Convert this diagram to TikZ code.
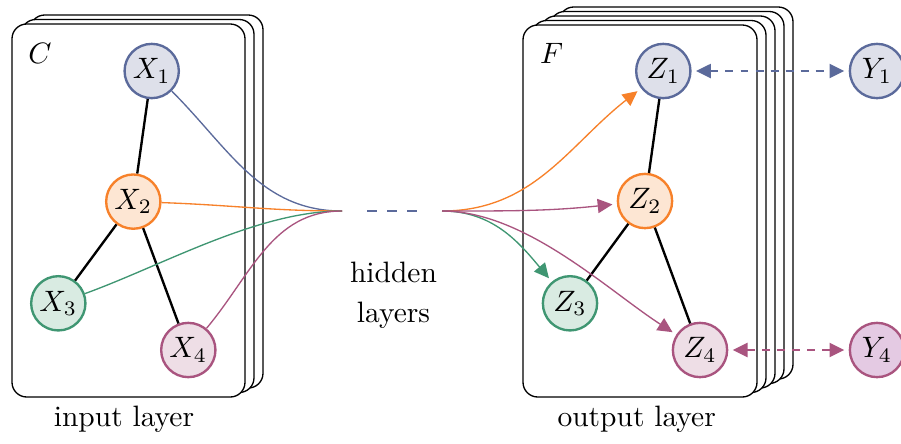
\documentclass[tikz,border=0pt]{standalone}
\usetikzlibrary{arrows.meta}
\definecolor{cblue}{HTML}{5B6A9B}
\definecolor{cblueF}{HTML}{DEE0EA}
\definecolor{corange}{HTML}{F7812A}
\definecolor{corangeF}{HTML}{FDE6D3}
\definecolor{cgreen}{HTML}{3F9672}
\definecolor{cgreenF}{HTML}{D9EBE2}
\definecolor{cmauve}{HTML}{A9547F}
\definecolor{cmauveF}{HTML}{EEDEE6}
\definecolor{cpurpleF}{HTML}{E4CAE3}
\begin{document}
\begin{tikzpicture}[x=0.339pt,y=-0.339pt,
  var/.style={circle, draw, line width=0.8pt, minimum size=18.4pt, inner sep=0pt},
  plate/.style={draw, line width=0.45pt, rounded corners=5pt, fill=white},
  edge/.style={line width=0.8pt, black},
  flow/.style={line width=0.45pt},
  tip/.style={-{Triangle[length=5pt,width=4.8pt]}, shorten >=1.5pt},
  link/.style={{Triangle[length=5pt,width=4.8pt]}-{Triangle[length=5pt,width=4.8pt]},
    shorten >=1.5pt, shorten <=1.5pt, line width=0.5pt, dash pattern=on 2.7pt off 2.4pt},
  lbl/.style={inner sep=0pt}
]
\useasboundingbox (0,0) rectangle (901,443);

% plates
\foreach \k in {2,1,0}
  \draw[plate] ({12+9*\k},{24-4.5*\k}) rectangle ({245+9*\k},{397-4.5*\k});
\foreach \k in {4,3,2,1,0}
  \draw[plate] ({523+9*\k},{25-4.5*\k}) rectangle ({757+9*\k},{397-4.5*\k});

\node[lbl] (C) at (40,53) {$C$};
\node[lbl] (F) at (551.7,53) {$F$};

% input nodes
\node[var, draw=cblue, fill=cblueF] (x1) at (151.7,71) {$X_1$};
\node[var, draw=corange, fill=corangeF] (x2) at (133.3,201.6) {$X_2$};
\node[var, draw=cgreen, fill=cgreenF] (x3) at (58.3,303.3) {$X_3$};
\node[var, draw=cmauve, fill=cmauveF] (x4) at (188.3,350) {$X_4$};

% output nodes
\node[var, draw=cblue, fill=cblueF] (z1) at (663.3,71) {$Z_1$};
\node[var, draw=corange, fill=corangeF] (z2) at (645,201) {$Z_2$};
\node[var, draw=cgreen, fill=cgreenF] (z3) at (570,303.3) {$Z_3$};
\node[var, draw=cmauve, fill=cmauveF] (z4) at (700,350) {$Z_4$};

\node[var, draw=cblue, fill=cblueF] (y1) at (877,71) {$Y_1$};
\node[var, draw=cmauve, fill=cpurpleF] (y4) at (877,350) {$Y_4$};

% graph edges
\draw[edge] (x1) -- (x2);
\draw[edge] (x2) -- (x3);
\draw[edge] (x2) -- (x4);
\draw[edge] (z1) -- (z2);
\draw[edge] (z2) -- (z3);
\draw[edge] (z2) -- (z4);

% hidden layer points
\coordinate (M) at (342,211);
\coordinate (D1) at (367,211);
\coordinate (D2) at (417,211);
\coordinate (N) at (442,211);

\draw[flow, cblue] (x1) to[out=-45, in=180] (M);
\draw[flow, corange] (x2) to[out=-2, in=180] (M);
\draw[flow, cgreen] (x3) to[out=20, in=180, looseness=0.8] (M);
\draw[flow, cmauve] (x4) to[out=50, in=180] (M);

\draw[flow, cblue, dash pattern=on 3.4pt off 3.4pt] (D1) -- (D2);

\draw[flow, tip, corange] (N) to[out=0, in=218] (z1);
\draw[flow, tip, cgreen] (N) to[out=0, in=130] (z3);
\draw[flow, tip, cmauve] (N) to[out=0, in=147, looseness=0.8] (z4);
\draw[flow, tip, cmauve] (N) to[out=0, in=186] (z2);

\draw[link, cblue] (z1) -- (y1);
\draw[link, cmauve] (z4) -- (y4);

% labels
\node[lbl, anchor=base] (inl) at (124,426) {input layer};
\node[lbl, anchor=base] (outl) at (636.7,426) {output layer};
\node[lbl, anchor=north, align=center, font=\fontsize{10}{13.6}\selectfont] (hid) at (393.5,261.2) {hidden\\layers};
\end{tikzpicture}
\end{document}
